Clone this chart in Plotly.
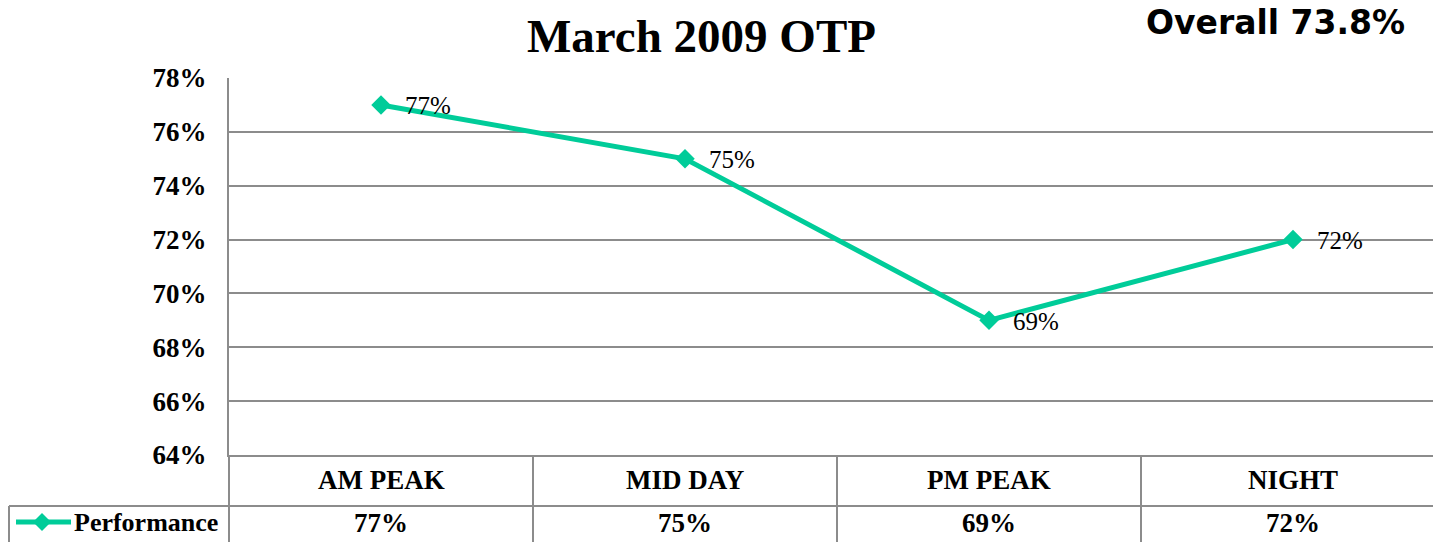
import plotly.graph_objects as go

categories = ["AM PEAK", "MID DAY", "PM PEAK", "NIGHT"]
performance = [0.77, 0.75, 0.69, 0.72]
series_name = "Performance"
title_text = "March 2009 OTP"
overall_text = "Overall 73.8%"
y_ticks = [0.64, 0.66, 0.68, 0.70, 0.72, 0.74, 0.76, 0.78]

W, H = 1433, 542
L, T = 229, 78
PB = 455                  # plot bottom in pixels
R, B = 0, H - PB
PW, PH = W - L - R, PB - T

def px_x(px):
    return (px - L) / PW

def px_y(py):
    return (PB - py) / PH

LINE_C = "#00CC99"
GRID_C = "#8c8c8c"
SERIF = "Liberation Serif, Times New Roman, serif"

x_idx = list(range(len(categories)))

fig = go.Figure()
fig.add_trace(go.Scatter(
    x=x_idx, y=performance, mode="lines+markers", name=series_name,
    line=dict(color=LINE_C, width=5),
    marker=dict(symbol="diamond", size=15, color=LINE_C),
    showlegend=False, cliponaxis=False, hoverinfo="skip",
))

annotations = []
# data labels
for xi, v in zip(x_idx, performance):
    annotations.append(dict(x=xi, y=v, xref="x", yref="y", text=f"{v*100:.0f}%",
                            showarrow=False, xanchor="left", yanchor="middle",
                            xshift=22, yshift=-1,
                            font=dict(family=SERIF, size=25, color="black")))
# table header and values
for xi, c, v in zip(x_idx, categories, performance):
    annotations.append(dict(x=xi, y=px_y(480), xref="x", yref="paper", text=f"<b>{c}</b>",
                            showarrow=False, xanchor="center", yanchor="middle",
                            font=dict(family=SERIF, size=27, color="black")))
    annotations.append(dict(x=xi, y=px_y(523), xref="x", yref="paper", text=f"<b>{v*100:.0f}%</b>",
                            showarrow=False, xanchor="center", yanchor="middle",
                            font=dict(family=SERIF, size=27, color="black")))
# legend key text
annotations.append(dict(x=px_x(72), y=px_y(522), xref="paper", yref="paper",
                        text=f"<b>{series_name}</b>", showarrow=False,
                        xanchor="left", yanchor="middle",
                        font=dict(family=SERIF, size=26, color="black")))
# title
annotations.append(dict(x=px_x(701), y=px_y(36), xref="paper", yref="paper",
                        text=f"<b>{title_text}</b>", showarrow=False,
                        xanchor="center", yanchor="middle",
                        font=dict(family=SERIF, size=47, color="black")))
annotations.append(dict(x=px_x(1407), y=px_y(23), xref="paper", yref="paper",
                        text=f"<b>{overall_text}</b>", showarrow=False,
                        xanchor="right", yanchor="middle",
                        font=dict(family="DejaVu Sans, Verdana, sans-serif", size=33, color="black")))

shapes = []
# table vertical separators between categories
for i in range(len(categories) - 1):
    shapes.append(dict(type="line", xref="x", yref="paper", x0=i + 0.5, x1=i + 0.5,
                       y0=0, y1=px_y(560), line=dict(color=GRID_C, width=2)))
# left axis line continues down
shapes.append(dict(type="line", xref="paper", yref="paper", x0=0, x1=0,
                   y0=0, y1=px_y(560), line=dict(color=GRID_C, width=2)))
# horizontal line between header and data row
shapes.append(dict(type="line", xref="paper", yref="paper", x0=px_x(9), x1=1.02,
                   y0=px_y(506), y1=px_y(506), line=dict(color=GRID_C, width=2)))
# left edge of legend cell
shapes.append(dict(type="line", xref="paper", yref="paper", x0=px_x(9), x1=px_x(9),
                   y0=px_y(506), y1=px_y(560), line=dict(color=GRID_C, width=2)))
# legend key: line and diamond
shapes.append(dict(type="line", xref="paper", yref="paper", x0=px_x(16), x1=px_x(71),
                   y0=px_y(522), y1=px_y(522), line=dict(color=LINE_C, width=5)))
cx, cy, r = 42, 522, 9
shapes.append(dict(type="path", xref="paper", yref="paper",
                   path=f"M {px_x(cx - r)} {px_y(cy)} L {px_x(cx)} {px_y(cy - r)} L {px_x(cx + r)} {px_y(cy)} L {px_x(cx)} {px_y(cy + r)} Z",
                   fillcolor=LINE_C, line=dict(color=LINE_C, width=0)))

fig.update_layout(
    width=W, height=H,
    margin=dict(l=L, r=R, t=T, b=B, pad=0),
    paper_bgcolor="white", plot_bgcolor="white",
    hovermode=False,
    xaxis=dict(range=[-0.5, -0.5 + PW / 304.0], showticklabels=False, showgrid=False,
               zeroline=False, showline=True, linecolor=GRID_C, linewidth=2, ticks=""),
    yaxis=dict(range=[0.64, 0.78], tickvals=y_ticks, tickformat=".0%",
               showgrid=True, gridcolor=GRID_C, gridwidth=2, zeroline=False,
               showline=True, linecolor=GRID_C, linewidth=2, ticks="",
               ticklabelstandoff=15,
               tickfont=dict(family=SERIF, size=27, color="black", weight="bold")),
    annotations=annotations, shapes=shapes,
)

page_css = ("document.documentElement.style.margin='0';"
            "document.documentElement.style.overflow='hidden';"
            "document.body.style.margin='0';"
            "document.body.style.overflow='hidden';")

fig.write_html("out.html", post_script=page_css,
               config={"displayModeBar": False, "staticPlot": True})
